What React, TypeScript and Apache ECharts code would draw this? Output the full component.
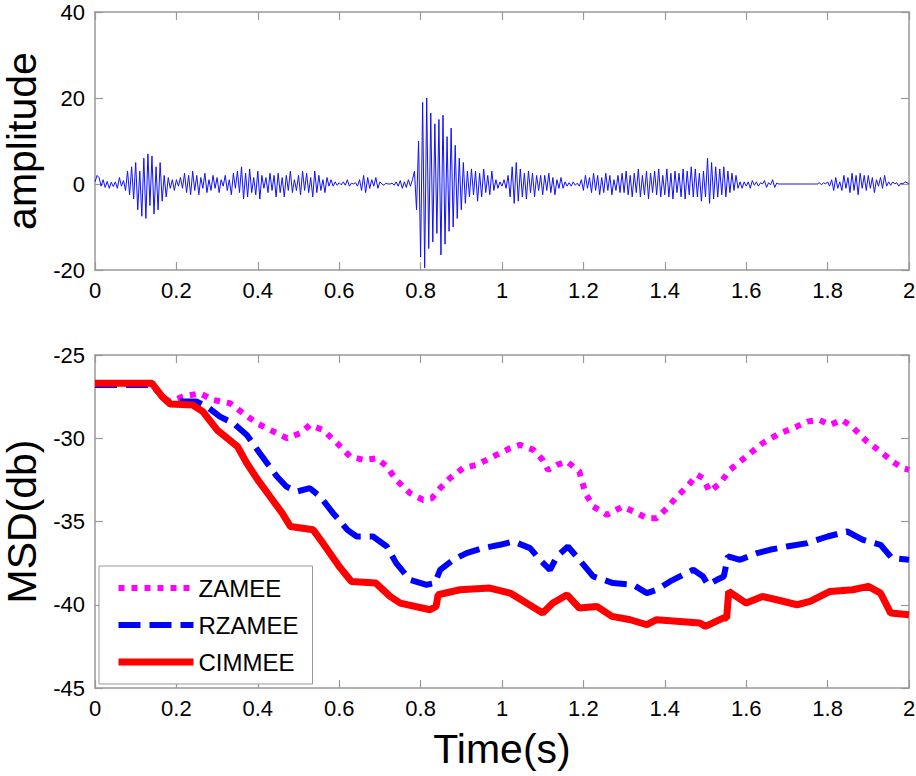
import React, { useEffect, useRef } from 'react';
import * as echarts from 'echarts';

// top panel: speech-like waveform, one sample every 5 ms from 0 to 2 s
const waveStep = 0.005;
const waveValues = [
  0.5, 2, 1.5, -0.5, 1, -0.8, 0.6, -1, 0.4, -0.6,
  0.5, -1, 1.5, -0.5, 0.8, -1.5, 3, -2.5, 4, -3.5,
  5, -6, 3, -7.5, 6, -8, 7, -5, 6.5, -7,
  4, -6, 5, -4, 2, -3, 1.5, -1, 1, -1.5,
  1, -0.5, 1.5, -1, 2.5, -2, 2, -2.5, 3, -1.5,
  2, -2.5, 1.5, -1, 2.5, -2, 1, -1.5, 2, -1,
  1.5, -2, 1, -0.5, 2, -1.5, 1, -2.5, 2.5, -1,
  3, -2, 4, -3.5, 2.5, -3, 3.5, -2, 1.5, -2.5,
  3, -3.5, 2, -1, 1.5, -2, 2.5, -1.5, 2, -3,
  2.5, -2, 1.5, -3, 2, -1.5, 3, -2, 1, -1.5,
  2, -2.5, 3, -1.5, 2.5, -2, 1.5, -3, 3, -2,
  2, -1.5, 1, -2, 1.5, -0.5, 1, -0.5, 0.5, -0.3,
  0.3, -0.2, 0.5, -0.3, 1, -0.5, 0.2, 0, 0.3, -0.5,
  1, -1.5, 2, -2, 1.5, -1, 1, -0.5, 1.5, -1,
  0.5, 0, -0.3, 0.2, 0, 0, 0.2, -0.3, 0.5, -0.5,
  0.8, -1, 0.5, -0.8, 1, -0.5, 1, 3, -6, 10,
  -17, 19, -19.5, 20, -15, 16.5, -13.5, 14, -11.5, 15,
  -16.5, 16, -14, 11, -11, 13, -10, 9, -8, 6,
  -6, 5, -4.5, 3, -3, 3.5, -2.5, 3, -4, 2.5,
  -3, 3.5, -2, 2, -2.5, 3, -1.5, 1, -1, 0.5,
  -0.5, 1, -1, 2, -3, 4, -4.5, 5, -4, 3.5,
  -3, 2.5, -3.5, 3, -2, 2.5, -3, 2, -1.5, 2,
  -2.5, 2, -1.5, 2.5, -2, 1.5, -2.5, 1, -1, 1.5,
  -1, 0.5, -0.5, 0.3, -0.5, 0.5, -0.3, 0.2, -0.5, 1,
  -1.5, 2, -1, 1.5, -2, 2.5, -1.5, 2, -2.5, 1.5,
  -2, 2.5, -1.5, 2, -2.5, 1, -1.5, 2, -2, 2.5,
  -2, 3, -2.5, 2, -3, 2.5, -2, 3.5, -3, 2,
  -2.5, 3, -3.5, 2.5, -2, 3, -2.5, 3.5, -3, 2,
  -2.5, 3.5, -3, 2.5, -3.5, 3, -2, 2.5, -3, 3.5,
  -3.5, 3, -2.5, 4, -3, 3.5, -3, 2.5, -4, 3,
  -3, 6, -4.5, 5, -3.5, 4, -3, 3.5, -2.5, 4,
  -3, 3, -2, 2.5, -1.5, 2, -1, 0.5, -1, 0.5,
  -0.5, 0.5, -1, 0.8, -0.3, 0.5, -0.5, 0.3, 0, 0.8,
  -0.8, 0.3, -0.2, 1, -0.8, 0.2, 0, 0, 0, 0,
  0, 0, 0, 0, 0, 0, 0, 0, 0, 0,
  0, 0, 0, 0, 0, 0, 0.3, -0.2, 0.3, 0,
  0.5, -0.5, 1, -1.5, 1.5, -1, 0.5, -1.5, 2, -1,
  1.5, -2, 2.5, -1.5, 2, -2.5, 2.5, -1, 2, -1.5,
  2, -1, 1.5, -2, 1, -0.5, 1.5, -1, 2, -0.5,
  0.5, -0.3, 0.5, 0, 0.3, -0.5, 0.2, 0, 0.5, 0.3,
  0,
];

// bottom panel: MSD learning curves, [time, dB]
const zamee = [
  [0, -26.7], [0.14, -26.7], [0.165, -27.5], [0.184, -27.8], [0.216, -27.5],
  [0.258, -27.3], [0.29, -27.7], [0.332, -27.9], [0.364, -28.5], [0.398, -29.1],
  [0.43, -29.5], [0.472, -30.0], [0.504, -29.7], [0.528, -29.2], [0.56, -29.5],
  [0.595, -30.3], [0.627, -31.1], [0.66, -31.3], [0.693, -31.2], [0.717, -31.7],
  [0.74, -32.5], [0.774, -33.3], [0.806, -33.7], [0.828, -33.6], [0.848, -33.0],
  [0.872, -32.4], [0.904, -31.8], [0.938, -31.6], [0.978, -31.1], [1.02, -30.6],
  [1.044, -30.4], [1.077, -30.7], [1.1, -31.3], [1.113, -31.9], [1.135, -31.6],
  [1.16, -31.4], [1.19, -32.0], [1.205, -33.3], [1.224, -34.1], [1.258, -34.6],
  [1.297, -34.1], [1.332, -34.5], [1.356, -34.8], [1.38, -34.8], [1.405, -34.2],
  [1.43, -33.5], [1.455, -32.9], [1.48, -32.2], [1.494, -32.4], [1.51, -33.2],
  [1.536, -32.7], [1.56, -31.9], [1.585, -31.4], [1.61, -30.9], [1.64, -30.3],
  [1.683, -29.7], [1.715, -29.4], [1.75, -29.0], [1.78, -28.9], [1.806, -29.2],
  [1.835, -28.9], [1.86, -29.3], [1.897, -30.2], [1.93, -30.8], [1.96, -31.4],
  [1.985, -31.8], [2.0, -31.9],
];

const rzamee = [
  [0, -26.8], [0.14, -26.8], [0.165, -27.5], [0.185, -27.9], [0.21, -27.8],
  [0.25, -27.8], [0.275, -28.1], [0.307, -28.7], [0.34, -29.1], [0.373, -29.8],
  [0.405, -30.9], [0.447, -32.3], [0.47, -32.9], [0.496, -33.2], [0.528, -33.0],
  [0.553, -33.5], [0.585, -34.5], [0.62, -35.5], [0.643, -35.9], [0.683, -35.9],
  [0.717, -36.5], [0.74, -37.5], [0.774, -38.5], [0.815, -38.8], [0.835, -38.7],
  [0.848, -37.9], [0.88, -37.3], [0.913, -36.9], [0.953, -36.6], [0.995, -36.4],
  [1.028, -36.2], [1.069, -36.6], [1.093, -37.3], [1.118, -37.9], [1.135, -37.1],
  [1.162, -36.5], [1.19, -37.3], [1.224, -38.3], [1.273, -38.7], [1.322, -38.8],
  [1.356, -39.3], [1.38, -39.1], [1.413, -38.6], [1.437, -38.3], [1.47, -37.9],
  [1.494, -38.3], [1.506, -38.8], [1.528, -38.5], [1.545, -38.3], [1.555, -37.1],
  [1.585, -37.3], [1.627, -36.9], [1.658, -36.7], [1.7, -36.5], [1.75, -36.3],
  [1.8, -35.9], [1.848, -35.6], [1.887, -36.1], [1.93, -36.4], [1.958, -37.2],
  [2.0, -37.3],
];

const cimmee = [
  [0, -26.7], [0.14, -26.7], [0.165, -27.5], [0.185, -27.95], [0.24, -28.0],
  [0.265, -28.4], [0.3, -29.5], [0.35, -30.5], [0.373, -31.5], [0.4, -32.5],
  [0.43, -33.5], [0.46, -34.5], [0.48, -35.3], [0.536, -35.5], [0.56, -36.3],
  [0.6, -37.7], [0.63, -38.6], [0.69, -38.7], [0.725, -39.5], [0.75, -39.9],
  [0.823, -40.3], [0.838, -40.1], [0.843, -39.4], [0.897, -39.1], [0.97, -39.0],
  [1.02, -39.3], [1.06, -39.9], [1.1, -40.5], [1.125, -39.9], [1.16, -39.4],
  [1.19, -40.2], [1.233, -40.1], [1.27, -40.7], [1.315, -40.9], [1.356, -41.2],
  [1.38, -40.9], [1.437, -41.0], [1.486, -41.1], [1.5, -41.3], [1.543, -40.8],
  [1.552, -40.8], [1.557, -39.2], [1.6, -39.9], [1.64, -39.5], [1.675, -39.7],
  [1.725, -40.0], [1.757, -39.8], [1.806, -39.2], [1.862, -39.1], [1.9, -38.9],
  [1.93, -39.3], [1.955, -40.5], [2.0, -40.6],
];

const seriesNames = ['ZAMEE', 'RZAMEE', 'CIMMEE'];

const FONT = '"Liberation Sans", Arial, sans-serif';
const AXIS_GRAY = '#999999';

const fmtX = (v: number) => String(Math.round(v * 10) / 10);

const boxAxis = (gridIndex: number, position: string, min: number, max: number, interval: number, labels: boolean, isX: boolean) => ({
  type: 'value',
  gridIndex,
  position,
  min,
  max,
  interval,
  axisLine: { show: true, onZero: false, lineStyle: { color: AXIS_GRAY, width: 1.5 } },
  axisTick: { show: true, inside: true, length: 8, lineStyle: { color: AXIS_GRAY, width: 1.2 } },
  axisLabel: {
    show: labels,
    color: '#000',
    fontSize: 22,
    fontFamily: FONT,
    margin: isX ? 9 : 10,
    formatter: isX ? fmtX : undefined,
  },
  splitLine: { show: false },
});

const App: React.FC = () => {
  const chartRef = useRef<HTMLDivElement>(null);

  useEffect(() => {
    if (!chartRef.current) return;
    // the figure fills the whole window, like the exported image
    document.body.style.margin = '0';
    const chart = echarts.init(chartRef.current, undefined, { renderer: 'svg' });

    const nameStyle = { fontSize: 41, fontFamily: FONT, color: '#000' };
    const yNameStyle = { ...nameStyle, lineHeight: 38 };

    const option = {
      animation: false,
      backgroundColor: '#fff',
      grid: [
        { left: 95, top: 12, width: 814, height: 258, containLabel: false, outerBoundsMode: 'none' },
        { left: 95, top: 355, width: 814, height: 333, containLabel: false, outerBoundsMode: 'none' },
      ],
      xAxis: [
        boxAxis(0, 'bottom', 0, 2, 0.2, true, true),
        boxAxis(0, 'top', 0, 2, 0.2, false, true),
        {
          ...boxAxis(1, 'bottom', 0, 2, 0.2, true, true),
          name: 'Time(s)',
          nameLocation: 'middle',
          nameGap: 40,
          nameTextStyle: nameStyle,
        },
        boxAxis(1, 'top', 0, 2, 0.2, false, true),
      ],
      yAxis: [
        {
          ...boxAxis(0, 'left', -20, 40, 20, true, false),
          name: 'amplitude',
          nameLocation: 'middle',
          nameGap: 53,
          nameTextStyle: yNameStyle,
        },
        boxAxis(0, 'right', -20, 40, 20, false, false),
        {
          ...boxAxis(1, 'left', -45, -25, 5, true, false),
          name: 'MSD(db)',
          nameLocation: 'middle',
          nameGap: 53,
          nameTextStyle: yNameStyle,
        },
        boxAxis(1, 'right', -45, -25, 5, false, false),
      ],
      legend: {
        data: seriesNames,
        orient: 'vertical',
        left: 99,
        top: 566,
        padding: [10, 14, 10, 16],
        itemGap: 13,
        itemWidth: 75,
        itemHeight: 14,
        backgroundColor: '#fff',
        borderColor: AXIS_GRAY,
        borderWidth: 1,
        borderRadius: 0,
        selectedMode: false,
        textStyle: { fontSize: 24, fontFamily: FONT, color: '#000', lineHeight: 24 },
        lineStyle: { width: 'inherit', type: 'inherit' },
        itemStyle: { opacity: 0 },
      },
      series: [
        {
          type: 'line',
          xAxisIndex: 0,
          yAxisIndex: 0,
          symbol: 'none',
          silent: true,
          lineStyle: { color: '#1010ff', width: 1 },
          data: waveValues.map((v, i) => [i * waveStep, v]),
        },
        {
          name: 'ZAMEE',
          type: 'line',
          xAxisIndex: 2,
          yAxisIndex: 2,
          symbol: 'none',
          itemStyle: { color: '#ff00ff' },
          lineStyle: { color: '#ff00ff', width: 6, type: [6, 7] },
          data: zamee,
        },
        {
          name: 'RZAMEE',
          type: 'line',
          xAxisIndex: 2,
          yAxisIndex: 2,
          symbol: 'none',
          itemStyle: { color: '#0000ff' },
          lineStyle: { color: '#0000ff', width: 6, type: [22, 9] },
          data: rzamee,
        },
        {
          name: 'CIMMEE',
          type: 'line',
          xAxisIndex: 2,
          yAxisIndex: 2,
          symbol: 'none',
          itemStyle: { color: '#ff0000' },
          lineStyle: { color: '#ff0000', width: 7 },
          data: cimmee,
        },
      ],
    };

    chart.setOption(option as any);

    return () => {
      chart.dispose();
    };
  }, []);

  return <div ref={chartRef} style={{ width: 916, height: 776 }} />;
};

export default App;
